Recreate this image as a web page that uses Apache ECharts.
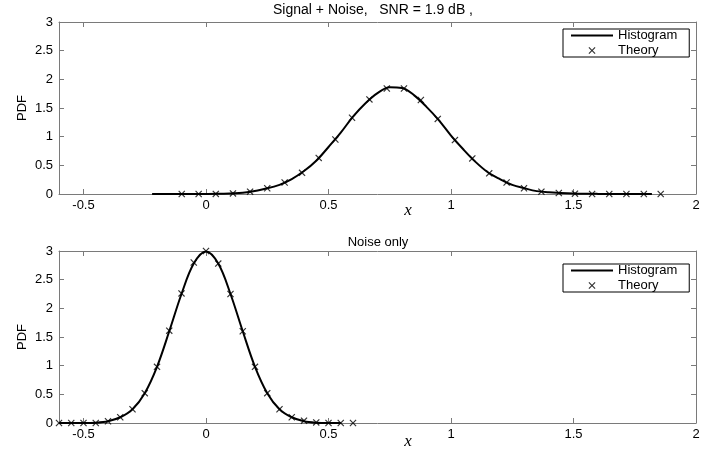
<!DOCTYPE html>
<html><head><meta charset="utf-8">
<script src="https://cdn.jsdelivr.net/npm/echarts@6/dist/echarts.min.js"></script>
<style>html,body{margin:0;padding:0;background:#fff}#c{width:718px;height:452px}</style>
</head><body><div id="c"></div>
<script>
// ---- data ----
const xTicks = [-0.5, 0, 0.5, 1, 1.5, 2];
const yTicks = [0, 0.5, 1, 1.5, 2, 2.5, 3];
const panelTitles = ['Signal + Noise,   SNR = 1.9 dB ,', 'Noise only'];
const seriesNames = ['Histogram', 'Theory'];

// Top panel: Signal + Noise
const sigHistX = [-0.22, -0.15, -0.05, 0.05, 0.15, 0.25, 0.30, 0.35, 0.40, 0.45, 0.50, 0.55, 0.60, 0.65, 0.70, 0.75, 0.80, 0.85, 0.90, 0.95, 1.00, 1.05, 1.10, 1.15, 1.20, 1.25, 1.30, 1.35, 1.40, 1.50, 1.60, 1.70, 1.82];
const sigHistY = [0, 0, 0, 0.003, 0.02, 0.10, 0.16, 0.26, 0.40, 0.58, 0.82, 1.07, 1.35, 1.58, 1.76, 1.86, 1.85, 1.72, 1.52, 1.29, 1.02, 0.78, 0.56, 0.38, 0.26, 0.16, 0.10, 0.05, 0.03, 0.01, 0.002, 0, 0];
const sigTheoryX = [-0.099, -0.030, 0.040, 0.110, 0.180, 0.250, 0.321, 0.392, 0.460, 0.528, 0.596, 0.667, 0.738, 0.808, 0.877, 0.946, 1.016, 1.087, 1.156, 1.227, 1.298, 1.369, 1.440, 1.506, 1.576, 1.646, 1.716, 1.787, 1.856];
const sigTheoryY = [0, 0, 0.002, 0.01, 0.04, 0.10, 0.20, 0.37, 0.63, 0.95, 1.33, 1.65, 1.84, 1.84, 1.64, 1.31, 0.94, 0.62, 0.36, 0.20, 0.10, 0.04, 0.017, 0.005, 0, 0, 0, 0, 0];

// Bottom panel: Noise only
const noiseHistX = [-0.60, -0.55, -0.50, -0.45, -0.40, -0.35, -0.30, -0.25, -0.20, -0.15, -0.10, -0.05, 0, 0.05, 0.10, 0.15, 0.20, 0.25, 0.30, 0.35, 0.40, 0.45, 0.50, 0.55];
const noiseHistY = [0, 0, 0, 0.005, 0.03, 0.10, 0.24, 0.52, 0.98, 1.60, 2.25, 2.78, 2.99, 2.78, 2.25, 1.60, 0.98, 0.52, 0.24, 0.10, 0.03, 0.005, 0, 0];
const noiseTheoryX = [-0.60, -0.55, -0.50, -0.45, -0.40, -0.35, -0.30, -0.25, -0.20, -0.15, -0.10, -0.05, 0, 0.05, 0.10, 0.15, 0.20, 0.25, 0.30, 0.35, 0.40, 0.45, 0.50, 0.55, 0.60];
const noiseTheoryY = [0, 0, 0, 0, 0.03, 0.10, 0.24, 0.52, 0.98, 1.61, 2.26, 2.80, 3.00, 2.78, 2.25, 1.60, 0.98, 0.52, 0.24, 0.10, 0.04, 0.01, 0, 0, 0];

// ---- chart ----
const zip = (xs, ys) => xs.map((x, i) => [x, ys[i]]);
const CROSS = 'path://M0,1.2L1.2,0L5,3.8L8.8,0L10,1.2L6.2,5L10,8.8L8.8,10L5,6.2L1.2,10L0,8.8L3.8,5Z';
const LINEICON = 'path://M0,0H42V2H0Z';
const FONT = '"Liberation Sans", Arial, sans-serif';
const AX = '#7a7a7a';

const grids = [
  { left: 59, right: 22, top: 22, height: 172 },
  { left: 59, right: 22, top: 251, height: 172 }
];

const xAxes = [], yAxes = [];
grids.forEach((g, gi) => {
  xAxes.push({
    type: 'value', gridIndex: gi, min: -0.6, max: 2, position: 'bottom',
    axisLine: { onZero: false, lineStyle: { color: AX, width: 1 } },
    axisTick: { inside: true, length: 5, customValues: xTicks, lineStyle: { color: AX } },
    axisLabel: { customValues: xTicks, color: '#000', fontSize: 13, fontFamily: FONT, margin: 5, showMaxLabel: true, showMinLabel: true },
    splitLine: { show: false }
  });
  xAxes.push({
    type: 'value', gridIndex: gi, min: -0.6, max: 2, position: 'top',
    axisLine: { onZero: false, lineStyle: { color: AX, width: 1 } },
    axisTick: { inside: true, length: 5, customValues: xTicks, lineStyle: { color: AX } },
    axisLabel: { show: false },
    splitLine: { show: false }
  });
  yAxes.push({
    type: 'value', gridIndex: gi, min: 0, max: 3, interval: 0.5, position: 'left',
    name: 'PDF', nameLocation: 'middle', nameGap: 30, nameMoveOverlap: false,
    nameTextStyle: { color: '#000', fontSize: 13, fontFamily: FONT },
    axisLine: { show: true, onZero: false, lineStyle: { color: AX, width: 1 } },
    axisTick: { show: true, inside: true, length: 5, lineStyle: { color: AX } },
    axisLabel: { color: '#000', fontSize: 13, fontFamily: FONT, margin: 6 },
    splitLine: { show: false }
  });
  yAxes.push({
    type: 'value', gridIndex: gi, min: 0, max: 3, interval: 0.5, position: 'right',
    axisLine: { show: true, onZero: false, lineStyle: { color: AX, width: 1 } },
    axisTick: { show: true, inside: true, length: 5, lineStyle: { color: AX } },
    axisLabel: { show: false },
    splitLine: { show: false }
  });
});

const panels = [
  { hist: zip(sigHistX, sigHistY), theory: zip(sigTheoryX, sigTheoryY) },
  { hist: zip(noiseHistX, noiseHistY), theory: zip(noiseTheoryX, noiseTheoryY) }
];
const series = [];
panels.forEach((p, gi) => {
  series.push({
    name: seriesNames[0], type: 'line', xAxisIndex: gi * 2, yAxisIndex: gi * 2,
    data: p.hist, smooth: 0.35, symbol: 'none', silent: true,
    lineStyle: { color: '#000', width: 2 }, itemStyle: { color: '#000' }, z: 2
  });
  series.push({
    name: seriesNames[1], type: 'scatter', xAxisIndex: gi * 2, yAxisIndex: gi * 2,
    data: p.theory, symbol: CROSS, symbolSize: 7, silent: true,
    itemStyle: { color: '#000' }, z: 3
  });
});

const legendTops = [29, 264];
const legends = legendTops.map(t => ({
  left: 563, top: t, orient: 'vertical',
  data: [{ name: seriesNames[0], icon: LINEICON }, { name: seriesNames[1], icon: CROSS }],
  itemWidth: 42, itemHeight: 7, itemGap: 2,
  padding: [0, 12, 0, 8],
  borderColor: '#000', borderWidth: 1, backgroundColor: '#fff',
  textStyle: { color: '#000', fontSize: 13, fontFamily: FONT, lineHeight: 12 },
  selectedMode: false
}));

const graphic = [
  { type: 'text', x: 373, y: 10, style: { text: panelTitles[0], font: '14px ' + FONT, fill: '#000', textAlign: 'center', textVerticalAlign: 'middle' } },
  { type: 'text', x: 378, y: 242, style: { text: panelTitles[1], font: '13px ' + FONT, fill: '#000', textAlign: 'center', textVerticalAlign: 'middle' } },
  { type: 'text', x: 408, y: 211, style: { text: 'x', font: 'italic 17px "Liberation Serif", "Times New Roman", serif', fill: '#000', textAlign: 'center', textVerticalAlign: 'middle' } },
  { type: 'text', x: 408, y: 442, style: { text: 'x', font: 'italic 17px "Liberation Serif", "Times New Roman", serif', fill: '#000', textAlign: 'center', textVerticalAlign: 'middle' } }
];

const chart = echarts.init(document.getElementById('c'), null, { renderer: 'canvas' });
chart.setOption({
  animation: false,
  backgroundColor: '#fff',
  grid: grids,
  xAxis: xAxes,
  yAxis: yAxes,
  legend: legends,
  series: series,
  graphic: graphic
});
</script>
</body></html>
